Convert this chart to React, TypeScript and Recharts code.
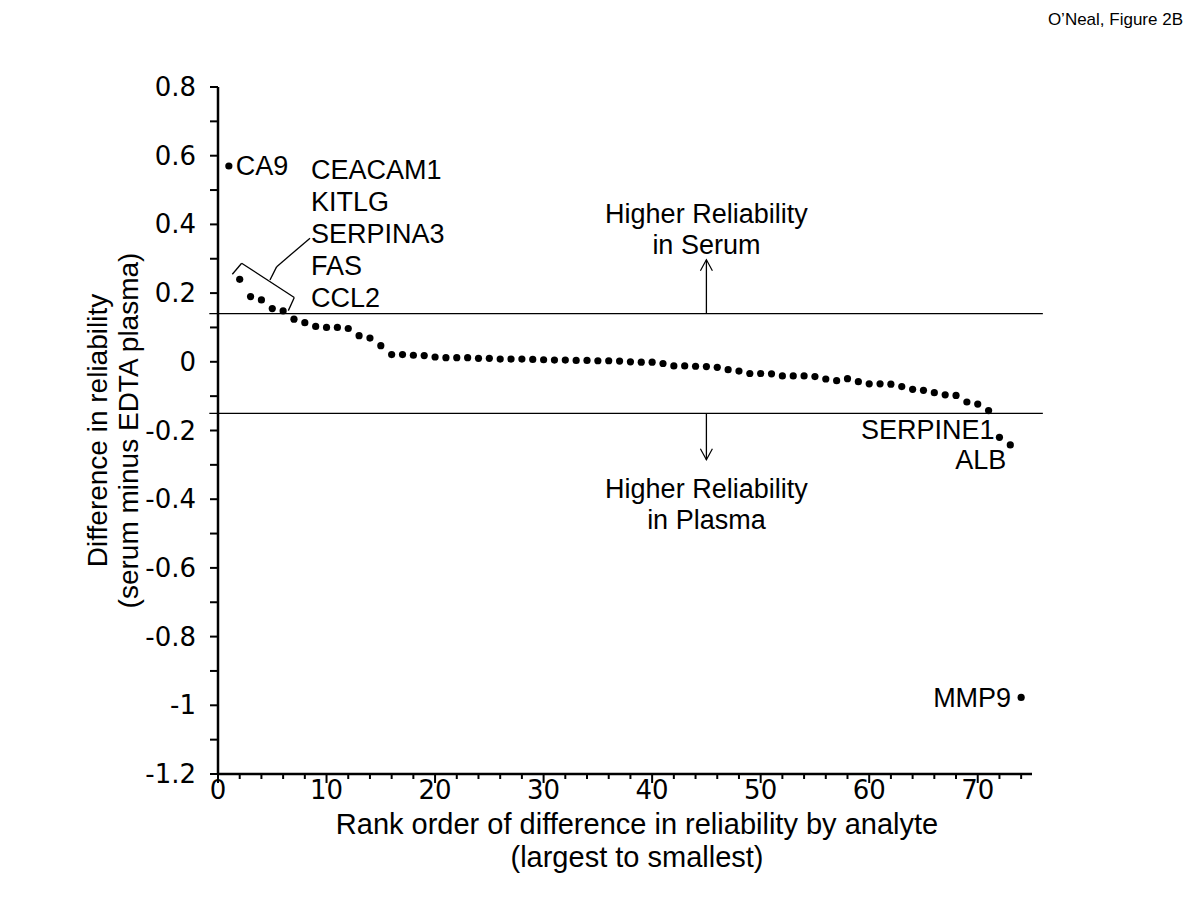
import { ScatterChart, Scatter, XAxis, YAxis, ReferenceLine, ReferenceDot } from "recharts"

// rank of each analyte (largest to smallest difference)
const ranks = [
  1, 2, 3, 4, 5, 6, 7, 8, 9, 10, 11, 12, 13, 14, 15, 16, 17, 18, 19, 20,
  21, 22, 23, 24, 25, 26, 27, 28, 29, 30, 31, 32, 33, 34, 35, 36, 37, 38, 39, 40,
  41, 42, 43, 44, 45, 46, 47, 48, 49, 50, 51, 52, 53, 54, 55, 56, 57, 58, 59, 60,
  61, 62, 63, 64, 65, 66, 67, 68, 69, 70, 71, 72, 73, 74,
]

// difference in reliability (serum minus EDTA plasma)
const diffs = [
  0.57, 0.24, 0.19, 0.18, 0.155, 0.148, 0.124, 0.114, 0.103, 0.1,
  0.1, 0.097, 0.076, 0.069, 0.047, 0.021, 0.021, 0.019, 0.018, 0.014,
  0.012, 0.012, 0.012, 0.01, 0.01, 0.008, 0.008, 0.008, 0.007, 0.006,
  0.005, 0.005, 0.004, 0.004, 0.003, 0.003, 0.002, 0.0, -0.001, -0.001,
  -0.005, -0.012, -0.012, -0.013, -0.014, -0.016, -0.023, -0.027, -0.034, -0.034,
  -0.035, -0.041, -0.041, -0.041, -0.043, -0.05, -0.055, -0.049, -0.058, -0.064,
  -0.064, -0.065, -0.072, -0.08, -0.083, -0.09, -0.096, -0.098, -0.117, -0.123,
  -0.142, -0.22, -0.242, -0.977,
]

const xMajorTicks = [0, 10, 20, 30, 40, 50, 60, 70]
const xMinorTicks = [2, 4, 6, 8, 12, 14, 16, 18, 22, 24, 26, 28, 32, 34, 36, 38, 42, 44, 46, 48, 52, 54, 56, 58, 62, 64, 66, 68, 72, 74]
const yMajorTicks = [0.8, 0.6, 0.4, 0.2, 0, -0.2, -0.4, -0.6, -0.8, -1, -1.2]
const yMinorTicks = [0.7, 0.5, 0.3, 0.1, -0.1, -0.3, -0.5, -0.7, -0.9, -1.1]

// thresholds drawn as horizontal lines
const upperCut = 0.14
const lowerCut = -0.15

const points = ranks.map((r, i) => ({ rank: r, diff: diffs[i] }))

const FONT = "'Liberation Sans', Arial, sans-serif"
const TICK_FONT = "'DejaVu Sans', Verdana, sans-serif"
const NOTE_SIZE = 27
const isMajor = (list: number[], v: number) => list.some((t) => Math.abs(t - v) < 1e-9)

function YTick(props: any) {
  const { x, y, payload } = props
  const major = isMajor(yMajorTicks, payload.value)
  return (
    <g>
      <line x1={x - 8} x2={x} y1={y} y2={y} stroke="#000" strokeWidth={2} />
      {major && (
        <text x={x - 22} y={y} textAnchor="end" dominantBaseline="central" fontSize={26} fontFamily={TICK_FONT} fill="#000">
          {String(payload.value)}
        </text>
      )}
    </g>
  )
}

function XTick(props: any) {
  const { x, y, payload } = props
  const major = isMajor(xMajorTicks, payload.value)
  return (
    <g>
      <line x1={x} x2={x} y1={y} y2={y + (major ? 9 : 5)} stroke="#000" strokeWidth={2} />
      {major && (
        <text x={x} y={y + 16} textAnchor="middle" dominantBaseline="central" fontSize={26} fontFamily={TICK_FONT} fill="#000">
          {String(payload.value)}
        </text>
      )}
    </g>
  )
}

function Dot(props: any) {
  return <circle cx={props.cx} cy={props.cy} r={3.6} fill="#000" />
}

// multi-line text anchored at a data point
function note(lines: string[], anchor: "start" | "middle" | "end", dx: number, dy: number, lineHeight = 32) {
  return (p: any) => (
    <text textAnchor={anchor} fontSize={NOTE_SIZE} fontFamily={FONT} fill="#000">
      {lines.map((l, i) => (
        <tspan key={i} x={p.cx + dx} y={p.cy + dy + i * lineHeight} dominantBaseline="central">
          {l}
        </tspan>
      ))}
    </text>
  )
}

function arrowHead(dir: 1 | -1) {
  return (p: any) => (
    <polyline
      points={`${p.cx - 6},${p.cy + dir * 11} ${p.cx},${p.cy} ${p.cx + 6},${p.cy + dir * 11}`}
      fill="none"
      stroke="#000"
      strokeWidth={1.2}
    />
  )
}

function YTitle(props: any) {
  const vb = props.viewBox
  const cy = vb.y + vb.height / 2
  return (
    <g fontSize={28} fontFamily={FONT} fill="#000" textAnchor="middle">
      <text transform={`translate(${vb.x - 41},${cy}) rotate(-90)`} dominantBaseline="central">Difference in reliability</text>
      <text transform={`translate(${vb.x - 10},${cy}) rotate(-90)`} dominantBaseline="central">(serum minus EDTA plasma)</text>
    </g>
  )
}

function XTitle(props: any) {
  const vb = props.viewBox
  const cx = vb.x + vb.width / 2 + 12
  return (
    <g fontSize={29} fontFamily={FONT} fill="#000" textAnchor="middle">
      <text x={cx} y={vb.y + 50} dominantBaseline="central">Rank order of difference in reliability by analyte</text>
      <text x={cx} y={vb.y + 83} dominantBaseline="central">(largest to smallest)</text>
    </g>
  )
}

const line = { stroke: "#000", strokeWidth: 1.3 }

export default function App() {
  return (
    <div style={{ position: "absolute", left: 0, top: 0, width: 1200, height: 900, background: "#fff" }}>
      <div style={{ position: "absolute", right: 17, top: 10, fontFamily: FONT, fontSize: 17, color: "#000" }}>
        O’Neal, Figure 2B
      </div>
      <ScatterChart width={1200} height={900} margin={{ top: 87, right: 168, bottom: 86, left: 138 }}>
        <XAxis
          type="number"
          dataKey="rank"
          domain={[0, 75]}
          ticks={[...xMajorTicks, ...xMinorTicks]}
          interval={0}
          tickSize={0}
          tickMargin={0}
          tick={<XTick />}
          height={40}
          axisLine={{ stroke: "#000", strokeWidth: 2.5 }}
          label={(p: any) => <XTitle {...p} />}
        />
        <YAxis
          type="number"
          dataKey="diff"
          domain={[-1.2, 0.8]}
          ticks={[...yMajorTicks, ...yMinorTicks]}
          interval={0}
          tickSize={0}
          tickMargin={0}
          tick={<YTick />}
          width={80}
          axisLine={{ stroke: "#000", strokeWidth: 2.5 }}
          label={(p: any) => <YTitle {...p} />}
        />

        <ReferenceLine segment={[{ x: -0.8, y: upperCut }, { x: 76, y: upperCut }]} ifOverflow="visible" {...line} />
        <ReferenceLine segment={[{ x: -0.8, y: lowerCut }, { x: 76, y: lowerCut }]} ifOverflow="visible" {...line} />

        {/* arrows */}
        <ReferenceLine segment={[{ x: 45, y: upperCut }, { x: 45, y: 0.297 }]} ifOverflow="visible" {...line} />
        <ReferenceDot x={45} y={0.297} ifOverflow="visible" shape={arrowHead(1)} />
        <ReferenceLine segment={[{ x: 45, y: lowerCut }, { x: 45, y: -0.285 }]} ifOverflow="visible" {...line} />
        <ReferenceDot x={45} y={-0.285} ifOverflow="visible" shape={arrowHead(-1)} />
        <ReferenceDot x={45} y={0.43} ifOverflow="visible" shape={note(["Higher Reliability", "in Serum"], "middle", 0, 0, 31)} />
        <ReferenceDot x={45} y={-0.369} ifOverflow="visible" shape={note(["Higher Reliability", "in Plasma"], "middle", 0, 0, 31)} />

        {/* bracket around ranks 2-6 with leader to the name list */}
        <ReferenceLine segment={[{ x: 1.32, y: 0.255 }, { x: 2.18, y: 0.287 }]} ifOverflow="visible" {...line} />
        <ReferenceLine segment={[{ x: 2.18, y: 0.287 }, { x: 7.03, y: 0.187 }]} ifOverflow="visible" {...line} />
        <ReferenceLine segment={[{ x: 7.03, y: 0.187 }, { x: 6.48, y: 0.149 }]} ifOverflow="visible" {...line} />
        <ReferenceLine segment={[{ x: 4.79, y: 0.238 }, { x: 5.41, y: 0.277 }]} ifOverflow="visible" {...line} />
        <ReferenceLine segment={[{ x: 5.41, y: 0.277 }, { x: 8.48, y: 0.36 }]} ifOverflow="visible" {...line} />
        <ReferenceDot x={8.57} y={0.558} ifOverflow="visible" shape={note(["CEACAM1", "KITLG", "SERPINA3", "FAS", "CCL2"], "start", 0, 0, 32)} />

        <Scatter data={points} isAnimationActive={false} shape={<Dot />} />

        {/* point labels */}
        <ReferenceDot x={ranks[0]} y={diffs[0]} ifOverflow="visible" shape={note(["CA9"], "start", 7, 0)} />
        <ReferenceDot x={ranks[71]} y={diffs[71]} ifOverflow="visible" shape={note(["SERPINE1"], "end", -5, -7)} />
        <ReferenceDot x={ranks[72]} y={diffs[72]} ifOverflow="visible" shape={note(["ALB"], "end", -4, 15)} />
        <ReferenceDot x={ranks[73]} y={diffs[73]} ifOverflow="visible" shape={note(["MMP9"], "end", -10, 1)} />
      </ScatterChart>
    </div>
  )
}
